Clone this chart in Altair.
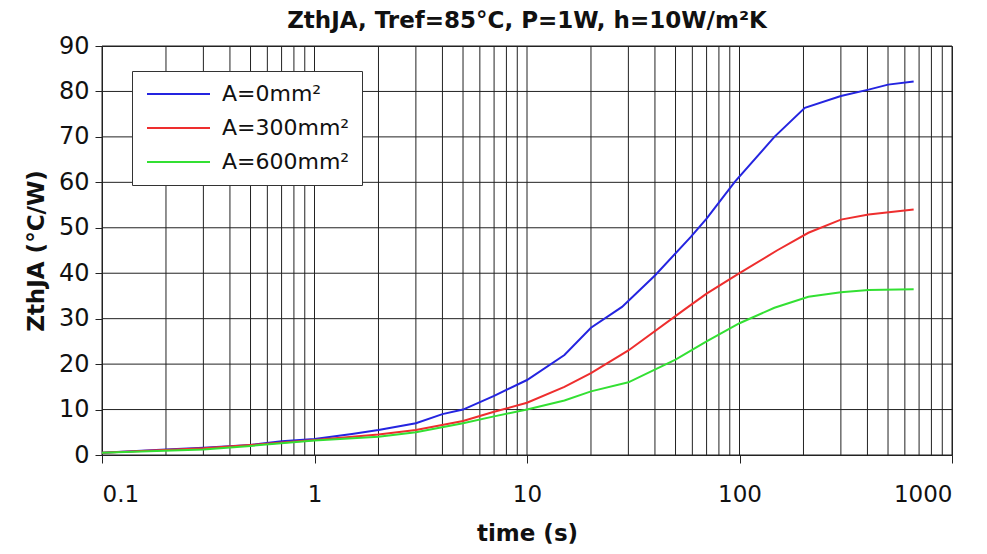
import altair as alt
import pandas as pd

series_names = ["A=0mm²", "A=300mm²", "A=600mm²"]
colors = ["#2424e0", "#ee2e2e", "#33e033"]

t_blue = [0.1, 0.2, 0.3, 0.5, 0.7, 1, 1.5, 2, 3, 4, 5, 7, 10, 15, 20, 28, 40, 59, 70, 95, 146, 203, 300, 405, 500, 660]
z_blue = [0.5, 1.2, 1.6, 2.2, 3.0, 3.5, 4.6, 5.5, 7.0, 9.0, 10.0, 13.0, 16.5, 22.0, 28.0, 32.6, 39.5, 48.0, 52.0, 60.1, 70.0, 76.4, 79.0, 80.4, 81.5, 82.2]

t_red = [0.1, 0.3, 0.5, 1, 2, 3, 5, 7, 10, 15, 20, 30, 55, 70, 100, 150, 211, 300, 405, 660]
z_red = [0.5, 1.5, 2.2, 3.3, 4.5, 5.5, 7.5, 9.5, 11.5, 15.0, 18.0, 23.0, 32.0, 35.5, 40.0, 45.0, 48.9, 51.8, 52.9, 54.0]

t_green = [0.1, 0.3, 0.5, 1, 2, 3, 5, 7, 10, 15, 20, 30, 50, 70, 100, 146, 211, 300, 405, 660]
z_green = [0.5, 1.2, 2.0, 3.2, 4.0, 5.0, 7.0, 8.5, 10.0, 12.0, 14.0, 16.0, 21.0, 25.0, 29.0, 32.4, 34.8, 35.8, 36.3, 36.5]

x_grid = [v * m for m in [0.1, 1, 10, 100] for v in range(1, 10)] + [1000]
y_grid = [0, 10, 20, 30, 40, 50, 60, 70, 80, 90]
x_labels = [0.1, 1, 10, 100, 1000]

rows = []
for name, ts, zs in zip(series_names, [t_blue, t_red, t_green], [z_blue, z_red, z_green]):
    for t, z in zip(ts, zs):
        rows.append({"series": name, "time": t, "z": z})
df = pd.DataFrame(rows)

FONT = "DejaVu Sans"

xscale = alt.Scale(type="log", domain=[0.1, 1000], nice=False)
yscale = alt.Scale(domain=[0, 90], nice=False)

vgrid = alt.Chart(pd.DataFrame({"x": x_grid})).mark_rule(color="#222222", strokeWidth=1).encode(
    x=alt.X("x:Q", scale=xscale)
)
hgrid = alt.Chart(pd.DataFrame({"y": y_grid})).mark_rule(color="#222222", strokeWidth=1).encode(
    y=alt.Y("y:Q", scale=yscale)
)

lines = alt.Chart(df).mark_line(strokeWidth=2).encode(
    x=alt.X("time:Q", scale=xscale, title="time (s)",
            axis=alt.Axis(values=x_labels, grid=False, tickSize=8, labelPadding=20,
                          labelExpr="datum.value < 1 ? '0.1' : format(datum.value, 'd')",
                          labelFontSize=23, titleFontSize=23, titlePadding=16)),
    y=alt.Y("z:Q", scale=yscale, title="ZthJA (°C/W)",
            axis=alt.Axis(values=y_grid, grid=False, tickSize=7, labelPadding=6,
                          labelFontSize=24, titleFontSize=23, titlePadding=10)),
    color=alt.Color("series:N", sort=series_names,
                    scale=alt.Scale(domain=series_names, range=colors),
                    legend=alt.Legend(title=None, orient="none", legendX=30, legendY=25,
                                      symbolType="M-1,0H6.875", symbolSize=256, symbolStrokeWidth=2,
                                      labelFontSize=22, labelFont=FONT, labelColor="#111111",
                                      fillColor="white", strokeColor="#333333",
                                      padding=12, rowPadding=12, labelOffset=56)),
    order=alt.Order("time:Q"),
)

chart = alt.layer(vgrid, hgrid, lines).properties(
    width=850, height=409,
    title=alt.TitleParams("ZthJA, Tref=85°C, P=1W, h=10W/m²K", fontSize=23, font=FONT,
                          fontWeight="bold", anchor="middle", offset=1, color="#111111"),
    autosize=alt.AutoSizeParams(type="none"),
    padding={"left": 94, "top": 38, "right": 20, "bottom": 91},
).configure_view(stroke="#222222", strokeWidth=1).configure_axis(
    labelFont=FONT, labelColor="#111111",
    titleFont=FONT, titleFontWeight="bold", titleColor="#111111",
    domainColor="#222222", tickColor="#222222"
)

chart.save("out.html", embed_options={"renderer": "svg", "actions": False})
